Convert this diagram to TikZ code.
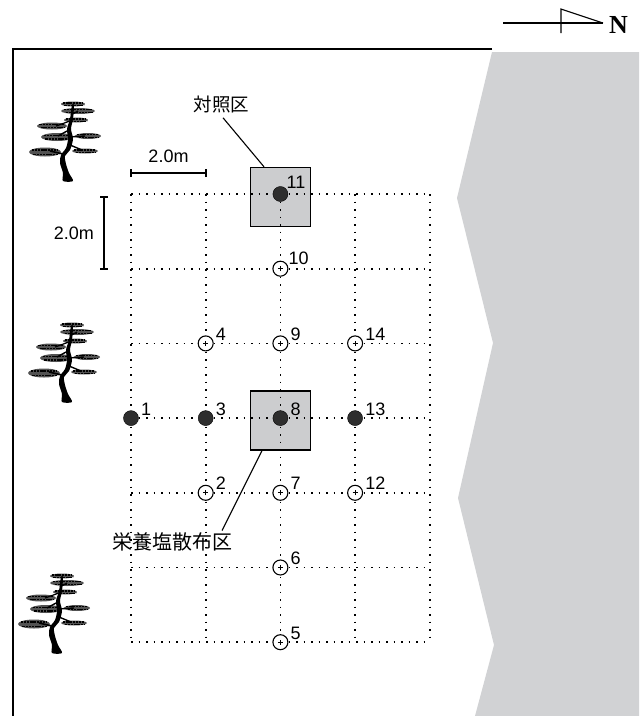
\documentclass[tikz,border=0pt]{standalone}
\usepackage{fontspec}
\setmainfont{Liberation Sans}
\newfontfamily\jpfont{Noto Sans CJK JP}
\newfontfamily\nfont{Liberation Serif}
\definecolor{shore}{RGB}{209,210,212}
\definecolor{plotgray}{RGB}{204,205,207}
\begin{document}
\begin{tikzpicture}[x=1pt,y=-1pt,
  frameline/.style={line width=1.4pt},
  gridline/.style={line width=1.6pt, dash pattern=on 1.5pt off 6pt},
  plotsq/.style={draw=black, line width=1.4pt, fill=plotgray, minimum width=60pt, minimum height=59pt, inner sep=0pt},
  fullpt/.style={circle, minimum size=15pt, inner sep=0pt, fill=black!82, draw=black},
  openpt/.style={circle, minimum size=15pt, inner sep=0pt, fill=white, draw=black, line width=1.1pt},
  numlbl/.style={anchor=base west, inner sep=0pt, font=\fontsize{18}{18}\selectfont},
  jplbl/.style={inner sep=0pt, font=\jpfont\fontsize{18.5}{18.5}\selectfont},
  scalebar/.style={line width=2.4pt},
  callout/.style={line width=1.1pt},
  foliage/.style={fill=black!68},
  needles/.style={black, line width=1.4pt, dash pattern=on 2.4pt off 0.8pt},
  pics/pinetree/.style={code={
    % foliage layers: grey pad with rows of dark needle strokes
    \foreach \cx/\cy/\w/\h in {5/-77/24/5, 10/-70/34/6, 8/-61/24/5, -16/-55/30/7,
                                -11/-44/32/8, 20/-45/26/6, -23/-29/32/9, 17/-30/26/5}{
      \fill[foliage] (\cx,\cy) ellipse [x radius=\w/2, y radius=\h/2];
      \draw[needles] ({\cx-\w*0.42},{\cy-\h*0.22}) -- ({\cx+\w*0.4},{\cy-\h*0.22});
      \draw[needles] ({\cx-\w*0.36},{\cy+\h*0.25}) -- ({\cx+\w*0.44},{\cy+\h*0.25});
    }
    % branches
    \draw[line width=1.6pt, black] (-5,-27) -- (-18,-30);
    \draw[line width=1.4pt, black] (2,-36) -- (14,-31);
    \draw[line width=1.4pt, black] (1,-44) -- (17,-45);
    \draw[line width=1.4pt, black] (-1,-50) -- (-10,-45);
    \draw[line width=1.2pt, black] (2,-60) -- (-12,-55);
    \draw[line width=1.2pt, black] (3,-66) -- (10,-70);
    % trunk
    \fill[black] plot[smooth cycle, tension=0.5] coordinates {
      (-5,0) (-5,-8) (-8,-18) (-7,-26) (-2,-33) (0,-42) (-1,-52) (2,-62) (4,-76)
      (6,-76) (5,-62) (3,-52) (5,-42) (2,-31) (-3,-25) (-2,-17) (1,-8) (5,0)};
  }}
]
\useasboundingbox (0,0) rectangle (644,716);

% shoreline area to the right
\fill[shore] (492,52) -- (457,198) -- (493,343) -- (458,498) -- (494,645)
  -- (475,716) -- (639,716) -- (639,52) -- cycle;

% site frame
\draw[frameline] (492,49) -- (13,49) -- (13,716);

% north arrow
\coordinate (ntail) at (503,23);
\coordinate (nhead) at (603,23);
\coordinate (nflag) at (561,9);
\coordinate (nfoot) at (561,33);
\draw[line width=1.1pt] (ntail) -- (nhead);
\draw[line width=1.1pt] (nfoot) -- (nflag) -- (nhead);
\node[inner sep=0pt, font=\nfont\bfseries\fontsize{26}{26}\selectfont] (north) at (618.5,24.5) {N};

% plots
\node[plotsq] (ctrl) at (280.4,197) {};
\node[plotsq] (treat) at (280.4,420.5) {};

% sampling grid, 2.0 m spacing
\foreach \i in {0,...,4}
  \draw[gridline] ({131+74.7*\i},194) -- ({131+74.7*\i},642.2);
\foreach \j in {0,...,6}
  \draw[gridline] (131,{194+74.7*\j}) -- (429.8,{194+74.7*\j});

% grid positions
\foreach \i in {0,...,4}
  \foreach \j in {0,...,6}
    \coordinate (g\i\j) at ({131+74.7*\i},{194+74.7*\j});

% sampling points
\foreach \n/\p in {1/g03, 3/g13, 8/g23, 11/g20, 13/g33}
  \node[fullpt] (p\n) at (\p) {};
\foreach \n/\p in {2/g14, 4/g12, 5/g26, 6/g25, 7/g24, 9/g22, 10/g21, 12/g34, 14/g32}{
  \node[openpt] (p\n) at (\p) {};
  \draw[line width=0.7pt] ([xshift=-2.5pt]p\n.center) -- ([xshift=2.5pt]p\n.center)
                          ([yshift=-2.5pt]p\n.center) -- ([yshift=2.5pt]p\n.center);
}

% point numbers
\foreach \n in {1,2,3,4,5,6,7,8,9,12,13,14}
  \node[numlbl] (l\n) at ([xshift=10pt,yshift=3pt]p\n.center) {\n};
\node[numlbl] (l10) at ([xshift=8pt,yshift=4pt]p10.center) {10};
\node[numlbl] (l11) at ([xshift=6pt,yshift=6pt]p11.center) {11};

% scale bars
\coordinate (hb1) at (131,173);
\coordinate (hb2) at (206,173);
\draw[scalebar] (hb1) -- (hb2);
\draw[scalebar] ([yshift=-4pt]hb1) -- ([yshift=4pt]hb1);
\draw[scalebar] ([yshift=-4pt]hb2) -- ([yshift=4pt]hb2);
\node[numlbl, anchor=base] (hlbl) at (168.5,162) {2.0m};

\coordinate (vb1) at (104,197);
\coordinate (vb2) at (104,269);
\draw[scalebar] (vb1) -- (vb2);
\draw[scalebar] ([xshift=-4pt]vb1) -- ([xshift=4pt]vb1);
\draw[scalebar] ([xshift=-4pt]vb2) -- ([xshift=4pt]vb2);
\node[numlbl, anchor=base east] (vlbl) at (94,239) {2.0m};

% plot labels with leaders
\node[jplbl] (ctrllbl) at (221.5,104.5) {対照区};
\draw[callout] ([xshift=1.5pt,yshift=-4.5pt]ctrllbl.south) -- ([xshift=-16.4pt]ctrl.north);
\node[jplbl, font=\jpfont\fontsize{20}{20}\selectfont] (treatlbl) at (172,541.5) {栄養塩散布区};
\draw[callout] ([xshift=-18.4pt]treat.south) -- ([xshift=50pt,yshift=1.5pt]treatlbl.north);

% pine trees along the shore line
\pic at (68,181) {pinetree};
\pic at (67,402) {pinetree};
\pic at (57,653) {pinetree};
\end{tikzpicture}
\end{document}
